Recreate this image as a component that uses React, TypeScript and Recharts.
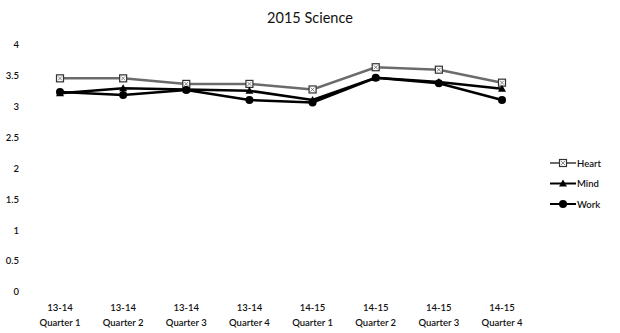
import React from 'react';
import { LineChart, Line, XAxis, YAxis, Legend } from 'recharts';

const years = ['13-14', '13-14', '13-14', '13-14', '14-15', '14-15', '14-15', '14-15'];
const quarters = ['Quarter 1', 'Quarter 2', 'Quarter 3', 'Quarter 4', 'Quarter 1', 'Quarter 2', 'Quarter 3', 'Quarter 4'];
const heart = [3.46, 3.46, 3.37, 3.37, 3.28, 3.64, 3.6, 3.39];
const mind = [3.22, 3.3, 3.28, 3.26, 3.11, 3.47, 3.4, 3.29];
const work = [3.24, 3.19, 3.27, 3.11, 3.07, 3.47, 3.38, 3.11];
const yTicks = [0, 0.5, 1, 1.5, 2, 2.5, 3, 3.5, 4];

const FONT = 'Lato, "Liberation Sans", sans-serif';

const data = years.map((y, i) => ({
  key: `${y} ${quarters[i]}`,
  Heart: heart[i],
  Mind: mind[i],
  Work: work[i],
}));

function SquareDot(props: any) {
  const { cx, cy } = props;
  if (cx == null || cy == null) return null;
  return (
    <g>
      <rect x={cx - 3.5} y={cy - 3.5} width={7} height={7} fill="#fff" stroke="#333" strokeWidth={1.2} />
      <path d={`M${cx - 2} ${cy - 2}L${cx + 2} ${cy + 2}M${cx + 2} ${cy - 2}L${cx - 2} ${cy + 2}`} stroke="#666" strokeWidth={0.8} />
    </g>
  );
}

function TriDot(props: any) {
  const { cx, cy } = props;
  if (cx == null || cy == null) return null;
  return <path d={`M${cx} ${cy - 4}L${cx + 4} ${cy + 3}L${cx - 4} ${cy + 3}Z`} fill="#000" />;
}

function CircleDot(props: any) {
  const { cx, cy } = props;
  if (cx == null || cy == null) return null;
  return <circle cx={cx} cy={cy} r={4} fill="#000" />;
}

function XTick(props: any) {
  const { x, y, payload } = props;
  const i = payload.index;
  return (
    <text x={x} y={y} textAnchor="middle" fontFamily={FONT} fontSize={9.5} fill="#111" fontWeight={600}>
      <tspan x={x} dy={0}>{years[i]}</tspan>
      <tspan x={x} dy={15}>{quarters[i]}</tspan>
    </text>
  );
}

function LegendContent() {
  const rows = [
    { name: 'Heart', color: '#6b6b6b', dot: 'square' },
    { name: 'Mind', color: '#000', dot: 'tri' },
    { name: 'Work', color: '#000', dot: 'circle' },
  ];
  return (
    <svg width={70} height={60}>
      {rows.map((r, i) => {
        const y = 8 + i * 20.5;
        return (
          <g key={r.name}>
            <line x1={2} x2={28} y1={y} y2={y} stroke={r.color} strokeWidth={2} />
            {r.dot === 'square' && <SquareDot cx={15} cy={y} />}
            {r.dot === 'tri' && <TriDot cx={15} cy={y} />}
            {r.dot === 'circle' && <CircleDot cx={15} cy={y} />}
            <text x={29} y={y + 3.5} fontFamily={FONT} fontSize={9.5} fontWeight={600} fill="#111">{r.name}</text>
          </g>
        );
      })}
    </svg>
  );
}

export default function App() {
  return (
    <div style={{ position: 'fixed', left: 0, top: 0, width: 620, height: 333, background: '#fff' }}>
      <div style={{ position: 'absolute', left: 0, top: 9, width: 620, textAlign: 'center', fontFamily: FONT, fontSize: 14.5, color: '#111' }}>
        2015 Science
      </div>
      <LineChart width={620} height={333} data={data} margin={{ top: 45, right: 48, bottom: 0, left: 0 }}>
        <XAxis
          dataKey="key"
          axisLine={false}
          tickLine={false}
          interval={0}
          height={41}
          tick={<XTick />}
          tickSize={0}
          tickMargin={19}
        />
        <YAxis
          domain={[0, 4]}
          ticks={yTicks}
          axisLine={false}
          tickLine={false}
          width={60}
          tickSize={0}
          tickMargin={41}
          tick={{ fontFamily: FONT, fontSize: 9.5, fill: '#111', fontWeight: 600 }}
        />
        <Legend
          layout="vertical"
          align="right"
          verticalAlign="middle"
          content={<LegendContent />}
          wrapperStyle={{ position: 'absolute', left: 548, top: 155, width: 70 }}
        />
        <Line dataKey="Heart" stroke="#6b6b6b" strokeWidth={2.5} dot={<SquareDot />} isAnimationActive={false} />
        <Line dataKey="Mind" stroke="#000" strokeWidth={2.5} dot={<TriDot />} isAnimationActive={false} />
        <Line dataKey="Work" stroke="#000" strokeWidth={2.5} dot={<CircleDot />} isAnimationActive={false} />
      </LineChart>
    </div>
  );
}
